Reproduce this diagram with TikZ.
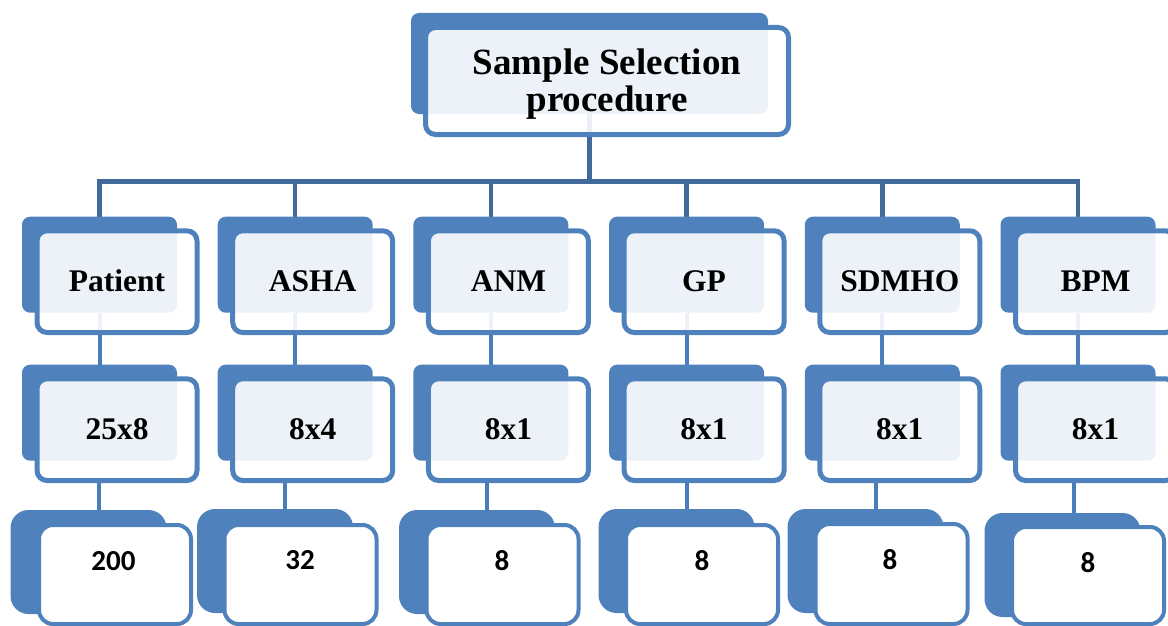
\documentclass[tikz,border=0pt]{standalone}
\usepackage{fontspec}
\setmainfont{Liberation Serif}
\newfontfamily\numfont{Carlito}
\definecolor{boxblue}{HTML}{4F81BD}
\definecolor{busblue}{HTML}{41699A}
\definecolor{stemblue}{HTML}{4A7EBB}
\pgfdeclarelayer{links}
\pgfsetlayers{links,main}
\tikzset{
  backbox/.style={shape=rectangle, fill=boxblue, draw=none, rounded corners=8pt,
    inner sep=0pt, outer sep=0pt},
  frontbox/.style={shape=rectangle, draw=boxblue, line width=5pt, fill=white,
    fill opacity=0.9, rounded corners=10pt, inner sep=0pt, outer sep=0pt},
  lowback/.style={backbox, rounded corners=18pt, minimum width=156pt, minimum height=104pt},
  lowfront/.style={shape=rectangle, draw=boxblue, line width=4pt, fill=white,
    rounded corners=14pt, inner sep=0pt, outer sep=0pt, minimum width=152pt},
  bus/.style={draw=busblue, line width=4.5pt, line join=miter},
  stem/.style={draw=stemblue, line width=4pt},
  headtext/.style={font=\bfseries\fontsize{37}{37.3}\selectfont, align=center, inner sep=0pt},
  roletext/.style={font=\bfseries\fontsize{31.5}{36}\selectfont, anchor=base, inner sep=0pt},
  counttext/.style={font=\numfont\bfseries\fontsize{29}{32}\selectfont, anchor=base, inner sep=0pt},
}
\begin{document}
\begin{tikzpicture}[x=1pt,y=-1pt]
\useasboundingbox (0,0) rectangle (1168,626);
\clip (0,0) rectangle (1168,626);

% heading box
\node[backbox, minimum width=357pt, minimum height=101pt] (hb) at (589.5,63.5) {};
\node[frontbox, minimum width=363pt, minimum height=107pt] (hf) at (607,81) {};
\node[headtext] (ht) at (607,84) {Sample Selection\\procedure};

% bus level
\coordinate (busy) at (0,181.5);

% first two rows: roles and their breakdowns
\foreach \i/\role/\split in {1/Patient/25x8, 2/ASHA/8x4, 3/ANM/8x1, 4/GP/8x1, 5/SDMHO/8x1, 6/BPM/8x1}{
  \pgfmathsetmacro{\L}{22+195.7*(\i-1)}
  \node[backbox, minimum width=155pt, minimum height=96pt] (b1-\i) at (\L+77.5,264.7) {};
  \node[frontbox, minimum width=160pt, minimum height=101.7pt] (f1-\i) at (\L+95,281.65) {};
  \node[roletext] (r1-\i) at (\L+95,291.7) {\role};
  \node[backbox, minimum width=155pt, minimum height=96pt] (b2-\i) at (\L+77.5,412.7) {};
  \node[frontbox, minimum width=160pt, minimum height=101.7pt] (f2-\i) at (\L+95,429.65) {};
  \node[roletext] (r2-\i) at (\L+95,439.7) {\split};
}

% third row: sample counts
\foreach \i/\bx/\by/\fx/\fy/\kx/\tx/\ty/\num in {
  1/88.5/562/115/574.5/99/113.5/570/200,
  2/275/561/300.5/574.5/285/300/569/32,
  3/477/562/502.5/574.5/487/502/570/8,
  4/676.5/561/702/574.5/687/702/570/8,
  5/865.5/561/891.5/574/876/890/569/8,
  6/1062.5/565/1088/575.5/1074/1088/572/8}{
  \coordinate (k3-\i) at (\kx,0);
  \node[lowback] (b3-\i) at (\bx,\by) {};
  \pgfmathsetmacro{\fh}{2*(624-\fy)}
  \node[lowfront, minimum height=\fh pt] (f3-\i) at (\fx,\fy) {};
  \node[counttext] (n3-\i) at (\tx,\ty) {\num};
}

% connectors, drawn beneath the boxes
\begin{pgfonlayer}{links}
  \draw[bus] (hb.south) -- (hb.south |- busy);
  \draw[bus] (b1-1.north) -- (b1-1.north |- busy) -- (b1-6.north |- busy) -- (b1-6.north);
  \foreach \i in {2,3,4,5}{
    \draw[bus] (b1-\i.north |- busy) -- (b1-\i.north);
  }
  \foreach \i in {1,...,6}{
    \draw[stem] (b1-\i.south) -- (b2-\i.north);
    \draw[stem] (f2-\i.south -| k3-\i) -- (b3-\i.north -| k3-\i);
  }
\end{pgfonlayer}
\end{tikzpicture}
\end{document}
